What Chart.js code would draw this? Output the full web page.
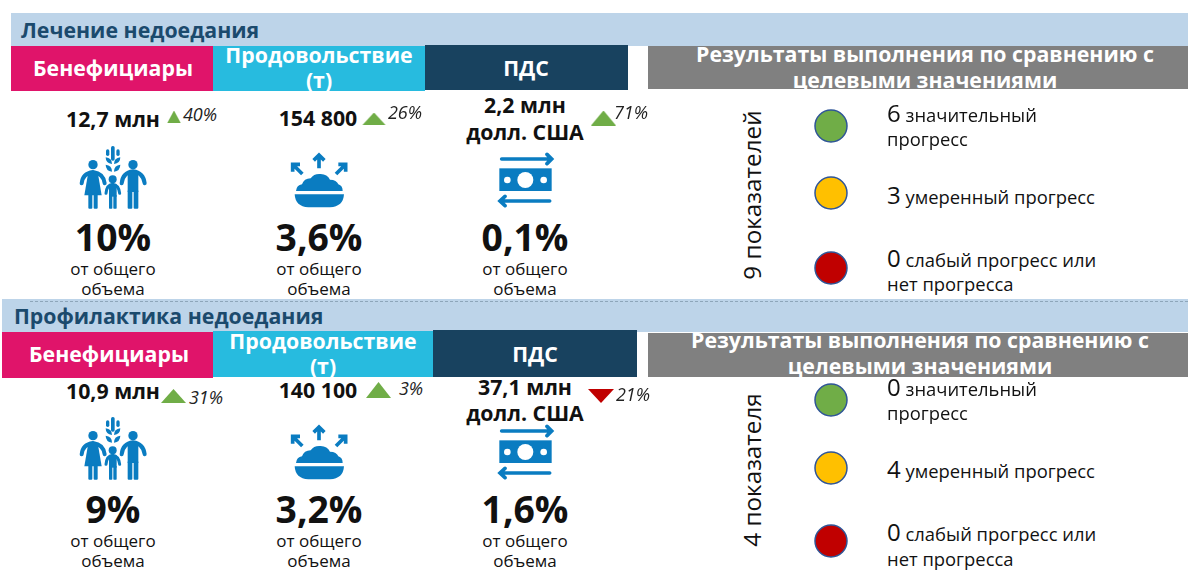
<!DOCTYPE html>
<html lang="ru">
<head>
  <meta charset="UTF-8">
  <title>Лечение и профилактика недоедания</title>
  <style>
    html, body { margin: 0; padding: 0; background: #fff; }
    #page { position: relative; width: 1188px; height: 576px; overflow: hidden; font-family: "Open Sans", sans-serif; color: #111; }
    #page > * { position: absolute; }
    .t { white-space: nowrap; line-height: 1; }
    .c { transform: translate(-50%, -50%); text-align: center; }
    .l { transform: translateY(-50%); }
    .b { font-weight: 700; }
    .i { font-style: italic; }
    .white { color: #fff; }
    .title { color: #1b4a6d; font-weight: 700; }
    .num { font-size: 24px; }
  </style>
</head>
<body>
  <div id="page"></div>

  <script src="https://cdn.jsdelivr.net/npm/chart.js"></script>
  <script>
    const sectionTitles = ['Лечение недоедания', 'Профилактика недоедания'];
    const categories = ['Бенефициары', 'Продовольствие (т)', 'ПДС'];
    const totals = [
      ['12,7 млн', '154 800', '2,2 млн долл. США'],
      ['10,9 млн', '140 100', '37,1 млн долл. США']
    ];
    const changePct = [
      [40, 26, 71],
      [31, 3, -21]
    ];
    const sharePct = [
      [10, 3.6, 0.1],
      [9, 3.2, 1.6]
    ];
    const shareNote = 'от общего объема';
    const resultsTitle = 'Результаты выполнения по сравнению с целевыми значениями';
    const indicatorLabels = ['9 показателей', '4 показателя'];
    const statusLabels = ['значительный прогресс', 'умеренный прогресс', 'слабый прогресс или нет прогресса'];
    const statusCounts = [
      [6, 3, 0],
      [0, 4, 0]
    ];

    const PINK = '#e0146a', CYAN = '#27bbdf', NAVY = '#18425f', GRAY = '#808080', BAND = '#bdd4e9';
    const STATUS_COLORS = ['#70ad47', '#ffc000', '#c00000'];
    const ICON = '#0a7cc1';
    const HEAD = 21.3, NOTE = 17, LABEL = 18.4;
    const page = document.getElementById('page');

    function box(x0, y0, x1, y1, color) {
      const d = document.createElement('div');
      d.style.cssText = `left:${x0}px;top:${y0}px;width:${x1 - x0}px;height:${y1 - y0}px;background:${color}`;
      page.appendChild(d);
      return d;
    }

    // cy is the vertical middle of the line of text
    function text(str, x, cy, size, cls) {
      const d = document.createElement('div');
      d.className = 't ' + (cls || 'c');
      d.style.left = x + 'px';
      d.style.top = cy + 'px';
      d.style.fontSize = size + 'px';
      d.textContent = str;
      page.appendChild(d);
      return d;
    }

    function rich(num, str, x, cy) {
      const d = text('', x, cy, LABEL, 'l');
      d.innerHTML = `<span class="num">${num}</span> ${str}`;
    }

    function svg(html, x, y, w, h, vw, vh) {
      const d = document.createElement('div');
      d.style.cssText = `left:${x}px;top:${y}px;width:${w}px;height:${h}px`;
      d.innerHTML = `<svg width="${w}" height="${h}" viewBox="0 0 ${vw} ${vh}" fill="${ICON}" stroke="none">${html}</svg>`;
      page.appendChild(d);
    }

    const peopleIcon = `
      <circle cx="99" cy="74" r="14"/><circle cx="219" cy="74" r="14"/><circle cx="158" cy="118" r="12"/>
      <path d="M65 130Q68 100 99 96Q130 100 134 130" fill="none" stroke="${ICON}" stroke-width="12" stroke-linecap="round"/>
      <path d="M85 96H113L125 166H73Z"/><rect x="85" y="160" width="12" height="46" rx="3"/><rect x="101" y="160" width="12" height="46" rx="3"/>
      <path d="M185 130Q188 98 219 94Q250 98 254 130" fill="none" stroke="${ICON}" stroke-width="12" stroke-linecap="round"/>
      <rect x="203" y="94" width="32" height="62"/><rect x="203" y="150" width="14" height="56" rx="3"/><rect x="221" y="150" width="14" height="56" rx="3"/>
      <path d="M138 160Q140 135 158 133Q176 135 179 160" fill="none" stroke="${ICON}" stroke-width="9" stroke-linecap="round"/>
      <rect x="147" y="133" width="23" height="37"/><rect x="147" y="165" width="10" height="41" rx="2"/><rect x="160" y="165" width="10" height="41" rx="2"/>
      <rect x="153" y="18" width="11" height="44" rx="5"/><rect x="138" y="28" width="10" height="20" rx="5"/><rect x="169" y="28" width="10" height="20" rx="5"/>
      <path d="M137 52Q156 54 156 72Q137 70 137 52Z"/><path d="M181 52Q162 54 162 72Q181 70 181 52Z"/>
      <path d="M137 74Q156 76 156 95Q137 92 137 74Z"/><path d="M181 74Q162 76 162 95Q181 92 181 74Z"/>`;
    const bowlIcon = `
      <g fill="none" stroke="${ICON}" stroke-width="11">
        <path d="M117 70V30M101 46L117 30L133 46"/>
        <path d="M67 87L40 60M38 80V58H60"/>
        <path d="M168 87L195 60M197 80V58H175"/>
      </g>
      <path d="M48 138Q50 120 66 118Q72 100 92 100Q102 85 122 87Q142 88 150 104Q170 104 175 118Q188 122 188 138Z"/>
      <path d="M44 148H192Q190 185 150 187H85Q46 185 44 148Z"/>`;
    const moneyIcon = `
      <g fill="none" stroke="${ICON}" stroke-width="11" stroke-linecap="round">
        <path d="M50 42H198M186 28L200 42L186 56"/>
        <path d="M194 168H46M60 154L45 168L60 182"/>
      </g>
      <rect x="43" y="70" width="157" height="68"/>
      <circle cx="121" cy="105" r="24" fill="#fff"/><circle cx="67" cy="105" r="10" fill="#fff"/><circle cx="176" cy="105" r="10" fill="#fff"/>`;

    function makeCanvas(x, y, w, h) {
      const c = document.createElement('canvas');
      c.width = w; c.height = h;
      c.style.cssText = `left:${x}px;top:${y}px;width:${w}px;height:${h}px`;
      page.appendChild(c);
      return c;
    }

    // one point on a pair of one-item category axes, so it lands in the middle of the canvas
    function markChart(canvas, xLabel, yLabel, dataset) {
      return new Chart(canvas, {
        type: 'scatter',
        data: { datasets: [Object.assign({ data: [{ x: xLabel, y: yLabel }] }, dataset)] },
        options: {
          responsive: false,
          animation: false,
          events: [],
          layout: { padding: 0 },
          plugins: { legend: { display: false }, tooltip: { enabled: false } },
          scales: {
            x: { type: 'category', labels: [xLabel], offset: true, display: false },
            y: { type: 'category', labels: [yLabel], offset: true, display: false }
          }
        }
      });
    }

    function triangleImage(w, h, up) {
      const c = document.createElement('canvas');
      c.width = w; c.height = h;
      const g = c.getContext('2d');
      g.fillStyle = up ? '#70ad47' : '#c00000';
      g.beginPath();
      if (up) { g.moveTo(w / 2, 0); g.lineTo(w, h); g.lineTo(0, h); }
      else { g.moveTo(0, 0); g.lineTo(w, 0); g.lineTo(w / 2, h); }
      g.closePath();
      g.fill();
      return c;
    }

    function trendMark(cat, change, x0, y0, x1, y1) {
      const w = x1 - x0, h = y1 - y0;
      const c = makeCanvas(x0 - 2, y0 - 2, w + 4, h + 4);
      markChart(c, cat, change + '%', { pointStyle: triangleImage(w, h, change >= 0), pointRadius: 10 });
    }

    function statusDot(label, count, color, cx, cy) {
      const c = makeCanvas(cx - 20, cy - 20, 40, 40);
      markChart(c, label, String(count), {
        pointStyle: 'circle', pointRadius: 16, pointBackgroundColor: color,
        pointBorderColor: '#2f5597', pointBorderWidth: 1.5
      });
    }

    const fmt = v => String(v).replace('.', ',') + '%';
    const columnsX = [113, 319, 525];

    // ---- section 1
    box(11, 13, 1188, 46, BAND);
    text(sectionTitles[0], 21, 29.5, HEAD, 'l title');
    box(648, 46, 1188, 89, GRAY);
    box(11, 46, 213, 91, PINK);
    box(213, 46, 425, 91, CYAN);
    box(425, 45, 628, 90, NAVY);

    // ---- section 2
    box(2, 299, 1188, 332, BAND);
    const dash = box(30, 301, 1188, 301, 'transparent');
    dash.style.borderTop = '1px dashed #8ea6ba';
    text(sectionTitles[1], 14, 315.5, HEAD, 'l title');
    box(648, 333, 1188, 377, GRAY);
    box(2, 332, 213, 378, PINK);
    box(213, 331, 433, 377, CYAN);
    box(433, 330, 637, 377, NAVY);

    function header(y, headX, resX) {
      text(categories[0], headX[0], y + 22, HEAD, 'c b white');
      text('Продовольствие', headX[1], y + 9, HEAD, 'c b white');
      text('(т)', headX[1], y + 34, HEAD, 'c b white');
      text(categories[2], headX[2], y + 21.5, HEAD, 'c b white');
      const split = resultsTitle.indexOf(' целевыми');
      text(resultsTitle.slice(0, split), resX, y + 8, HEAD, 'c b white');
      text(resultsTitle.slice(split + 1), resX, y + 34, HEAD, 'c b white');
    }
    header(46, [113, 319, 526], 925);
    header(332, [109, 323, 535], 920);

    // ---- totals, trends, icons
    const totalPos = [
      [[113, 119], [318, 118]],
      [[113, 391], [318, 390]]
    ];
    const pctPos = [
      [[200, 114], [405, 112], [631, 112]],
      [[206, 397], [411, 388], [633, 394]]
    ];
    const triPos = [
      [[165, 108, 179, 121], [362, 110, 386, 123], [591, 109, 616, 124]],
      [[161, 387, 186, 401], [366, 381, 391, 397], [588, 387, 614, 401]]
    ];
    const iconShift = [0, 272];
    const bigY = [237, 509], noteY = [268, 540], note2Y = [288, 560];
    const usdY = [[105, 132], [387, 413]];

    [0, 1].forEach(s => {
      const tot = totals[s];
      text(tot[0], totalPos[s][0][0], totalPos[s][0][1], HEAD, 'c b');
      text(tot[1], totalPos[s][1][0], totalPos[s][1][1], HEAD, 'c b');
      const split = tot[2].indexOf(' долл');
      text(tot[2].slice(0, split), 525, usdY[s][0], HEAD, 'c b');
      text(tot[2].slice(split + 1), 525, usdY[s][1], HEAD, 'c b');

      categories.forEach((cat, i) => {
        const [x0, y0, x1, y1] = triPos[s][i];
        trendMark(cat, changePct[s][i], x0, y0, x1, y1);
        const pct = text(Math.abs(changePct[s][i]) + '%', pctPos[s][i][0], pctPos[s][i][1], 18, 'c i');
        pct.style.color = '#222';
        text(fmt(sharePct[s][i]), columnsX[i], bigY[s], 37.3, 'c b');
        const nsplit = shareNote.lastIndexOf(' ');
        text(shareNote.slice(0, nsplit), columnsX[i], noteY[s], NOTE);
        text(shareNote.slice(nsplit + 1), columnsX[i], note2Y[s], NOTE);
      });

      const dy = iconShift[s];
      svg(peopleIcon, 60, 140 + dy - (s ? 1 : 0), 110, 80, 330, 240);
      svg(bowlIcon, 280, 145 + dy, 90, 70, 270, 210);
      svg(moneyIcon, 485, 145 + dy, 90, 70, 270, 210);
    });

    // ---- results column
    const dotY = [[126, 193, 268], [400, 468, 541]];
    const rowY = [
      [[113, 139], [195], [258, 284]],
      [[387, 413], [469], [532, 559]]
    ];
    const splitAfter = ['значительный', 'умеренный прогресс', 'слабый прогресс или'];
    const indicatorY = [195, 470];

    [0, 1].forEach(s => {
      const ind = text(indicatorLabels[s], 752, indicatorY[s], 24.3);
      ind.style.transform = 'translate(-50%, -50%) rotate(-90deg)';
      statusLabels.forEach((label, i) => {
        statusDot(label, statusCounts[s][i], STATUS_COLORS[i], 831, dotY[s][i]);
        const first = splitAfter[i];
        const ys = rowY[s][i];
        rich(statusCounts[s][i], first, 887, ys[0]);
        if (ys.length > 1) text(label.slice(first.length + 1), 887, ys[1], LABEL, 'l');
      });
    });
  </script>
</body>
</html>
